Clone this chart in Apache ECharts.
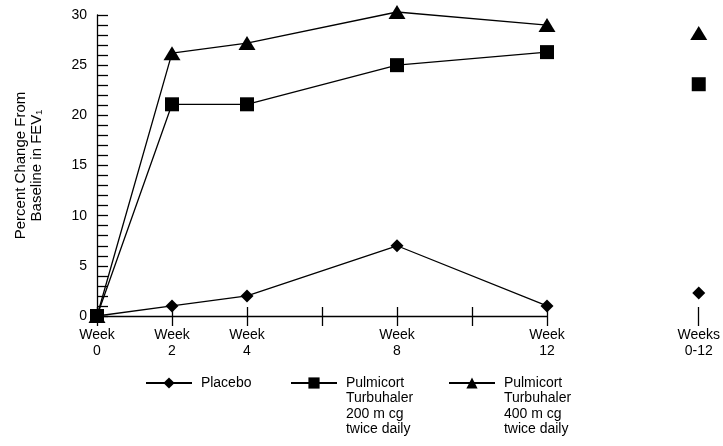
<!DOCTYPE html>
<html><head><meta charset="utf-8">
<script src="https://cdn.jsdelivr.net/npm/echarts@6/dist/echarts.min.js"></script>
<style>html,body{margin:0;padding:0;background:#fff}#c{width:723px;height:446px}</style>
</head><body><div id="c"></div>
<script>
var weeks = [0, 2, 4, 8, 12];
var overallCategory = ['Weeks\n0-12'];
var placebo = [0, 1, 2, 7, 1];
var pulm200 = [0, 21.1, 21.1, 25, 26.3];
var pulm400 = [0, 26.2, 27.2, 30.3, 29];
var overallPlacebo = [2.3];
var overall200 = [23.1];
var overall400 = [28.2];
var names = ['Placebo', 'Pulmicort\nTurbuhaler\n200 m cg\ntwice daily', 'Pulmicort\nTurbuhaler\n400 m cg\ntwice daily'];
var yMin = 0, yMax = 30;

var FONT = '"Liberation Sans",Arial,sans-serif';
function pairs(xs, ys){ return xs.map(function(x,i){ return [x, ys[i]]; }); }

var chart = echarts.init(document.getElementById('c'), null, {renderer:'canvas'});
var tickStyle = {color:'#000', width:1.3};
var LH = 15.5;
function legendAt(left, name){
  var lines = name.split('\n');
  var n = lines.length;
  var pad = [];
  for (var i = 1; i < n; i++) pad.push('');
  var height = (2 * n - 1) * LH;
  return {
    data:[name], left:left, top: 383 - Math.max(height, 14) / 2, padding:0,
    itemWidth:46, itemHeight:14, selectedMode:false,
    formatter:function(nm){ return pad.concat(nm.split('\n').map(function(s){ return ' ' + s; })).join('\n'); },
    textStyle:{fontFamily:FONT, fontSize:14, color:'#000', lineHeight:LH}
  };
}
var triSize = [17, 14];
chart.setOption({
  animation:false,
  backgroundColor:'#fff',
  textStyle:{fontFamily:FONT},
  legend:[legendAt(145, names[0]), legendAt(290, names[1]), legendAt(448, names[2])],
  grid:[
    {left:97, top:15, width:450, height:301},
    {left:690, top:15, width:24, height:301}
  ],
  xAxis:[
    {gridIndex:0, type:'value', min:0, max:12, interval:2,
     axisLine:{show:true, onZero:false, lineStyle:{color:'#000', width:1.3}},
     axisTick:{show:true, length:10, lineStyle:tickStyle},
     splitLine:{show:false},
     axisLabel:{color:'#000', fontSize:14, fontFamily:FONT, lineHeight:16, margin:11,
       formatter:function(v){ return weeks.indexOf(v) >= 0 ? 'Week\n' + v : ''; }}},
    {gridIndex:0, type:'value', min:0, max:12, interval:2, position:'bottom',
     axisLine:{show:false}, axisTick:{show:true, inside:true, length:9, lineStyle:tickStyle},
     axisLabel:{show:false}, splitLine:{show:false}},
    {gridIndex:1, type:'category', data:overallCategory, boundaryGap:true,
     axisLine:{show:false},
     axisTick:{show:true, alignWithLabel:true, length:10, lineStyle:tickStyle},
     axisLabel:{color:'#000', fontSize:14, fontFamily:FONT, lineHeight:16, margin:11}},
    {gridIndex:1, type:'category', data:overallCategory, boundaryGap:true, position:'bottom',
     axisLine:{show:false},
     axisTick:{show:true, inside:true, alignWithLabel:true, length:9, lineStyle:tickStyle},
     axisLabel:{show:false}}
  ],
  yAxis:[
    {gridIndex:0, type:'value', min:yMin, max:yMax, interval:1, offset:2,
     name:'Percent Change From\nBaseline in FEV\u2081', nameLocation:'middle', nameGap:50, nameRotate:90,
     nameTextStyle:{color:'#000', fontSize:15, fontFamily:FONT, lineHeight:16},
     axisLine:{show:true, lineStyle:{color:'#000', width:1.3}},
     axisTick:{show:true, inside:true, length:11, lineStyle:tickStyle},
     splitLine:{show:false},
     axisLabel:{color:'#000', fontSize:14, fontFamily:FONT, margin:8,
       formatter:function(v){ return v % 5 === 0 ? String(v) : ''; }}},
    {gridIndex:1, type:'value', min:yMin, max:yMax, show:false, splitLine:{show:false}}
  ],
  series:[
    {name:names[0], type:'line', xAxisIndex:0, yAxisIndex:0, data:pairs(weeks, placebo), clip:false,
     symbol:'diamond', symbolSize:13, itemStyle:{color:'#000'}, lineStyle:{color:'#000', width:1.3}},
    {name:names[2], type:'line', xAxisIndex:0, yAxisIndex:0, data:pairs(weeks, pulm400), clip:false,
     symbol:'triangle', symbolSize:triSize, itemStyle:{color:'#000'}, lineStyle:{color:'#000', width:1.3}},
    {name:names[1], type:'line', xAxisIndex:0, yAxisIndex:0, data:pairs(weeks, pulm200), clip:false,
     symbol:'rect', symbolSize:14, itemStyle:{color:'#000'}, lineStyle:{color:'#000', width:1.3}},
    {name:names[0], type:'scatter', xAxisIndex:2, yAxisIndex:1, data:overallPlacebo,
     symbol:'diamond', symbolSize:13, itemStyle:{color:'#000', opacity:1}},
    {name:names[1], type:'scatter', xAxisIndex:2, yAxisIndex:1, data:overall200,
     symbol:'rect', symbolSize:14, itemStyle:{color:'#000', opacity:1}},
    {name:names[2], type:'scatter', xAxisIndex:2, yAxisIndex:1, data:overall400,
     symbol:'triangle', symbolSize:triSize, itemStyle:{color:'#000', opacity:1}}
  ]
});
</script></body></html>
